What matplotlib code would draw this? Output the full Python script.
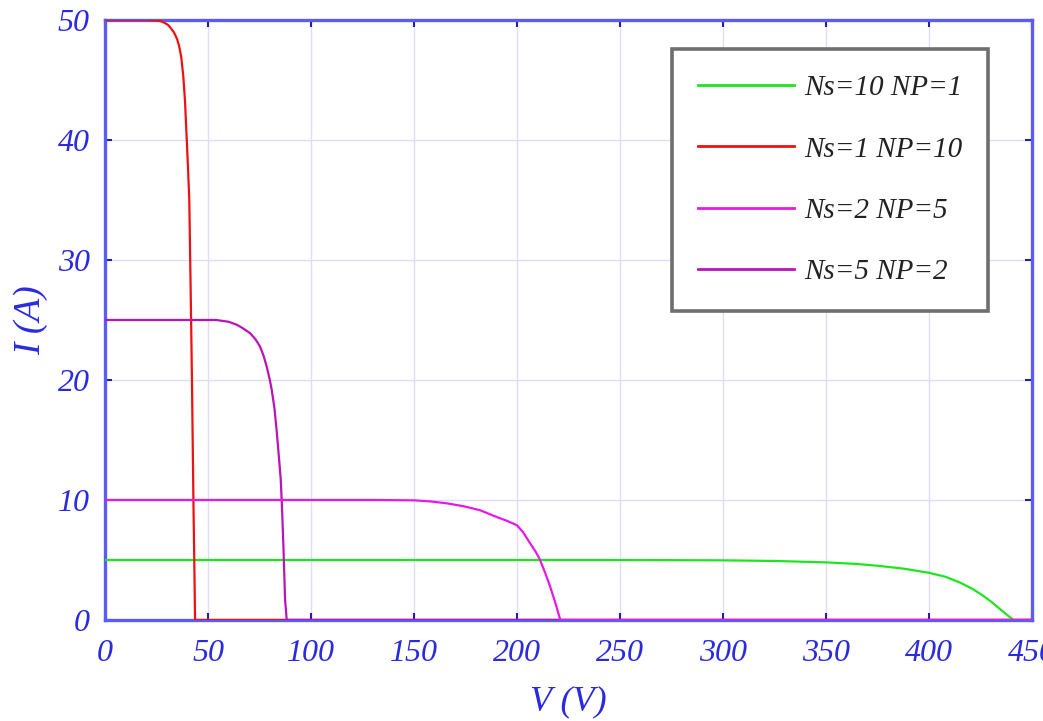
import numpy as np
import matplotlib
matplotlib.use("Agg")
import matplotlib.pyplot as plt

# I-V curves: (V in volts, I in amps)
v_ns10_np1 = [0, 100, 200, 240, 270, 300, 325, 350, 365, 375, 388, 400, 408, 415, 421, 426, 430, 434.5, 438, 441, 450]
i_ns10_np1 = [5, 5, 5, 5, 4.99, 4.97, 4.92, 4.8, 4.67, 4.52, 4.27, 3.93, 3.6, 3.12, 2.6, 2.05, 1.55, 0.9, 0.4, 0, 0]

v_ns1_np10 = [0, 20, 25, 27, 29, 30.5, 32, 33.5, 35, 36, 37, 38, 38.8, 39.6, 40.3, 40.9, 41.5, 42.2, 42.9, 43.4, 43.7, 450]
i_ns1_np10 = [50, 50, 49.95, 49.9, 49.75, 49.6, 49.3, 48.95, 48.4, 47.8, 46.9, 45.3, 43.3, 40.3, 37.6, 35, 28.3, 20, 10, 4, 0, 0]

v_ns2_np5 = [0, 100, 133, 150, 158, 166, 174, 182, 190, 195, 200, 203, 206, 209, 211, 213.5, 216, 218, 219.5, 221, 450]
i_ns2_np5 = [10, 10, 10, 9.97, 9.88, 9.72, 9.48, 9.15, 8.59, 8.27, 7.89, 7.3, 6.48, 5.7, 5.07, 4.0, 2.82, 1.75, 0.9, 0, 0]

v_ns5_np2 = [0, 40, 54, 60, 64, 67, 70.4, 73, 75.2, 77, 78.5, 80, 80.9, 82.2, 83.3, 84.3, 85.3, 86.0, 86.6, 87.4, 88.2, 450]
i_ns5_np2 = [25, 25, 25, 24.85, 24.6, 24.3, 23.9, 23.4, 22.8, 22.0, 21.1, 20.0, 19.2, 17.7, 15.8, 13.8, 11.7, 9.0, 6.1, 1.7, 0, 0]

labels = ["Ns=10 NP=1", "Ns=1 NP=10", "Ns=2 NP=5", "Ns=5 NP=2"]
colors = ["#1ee61e", "#ee1111", "#e619e6", "#b814b8"]

xticks = np.arange(0, 451, 50)
yticks = np.arange(0, 51, 10)

blue = "#2a2ae0"
spine_blue = "#5c5cf2"

plt.rcParams["font.family"] = ["Liberation Serif", "DejaVu Serif"]
plt.rcParams["font.style"] = "italic"

fig = plt.figure(figsize=(10.43, 7.21), dpi=100)
ax = fig.add_axes([0.1007, 0.1401, 0.8888, 0.8322])

h1, = ax.plot(v_ns10_np1, i_ns10_np1, color=colors[0], lw=1.6, zorder=3)
h2, = ax.plot(v_ns1_np10, i_ns1_np10, color=colors[1], lw=1.6, zorder=4)
h4, = ax.plot(v_ns5_np2, i_ns5_np2, color=colors[3], lw=1.6, zorder=5)
h3, = ax.plot(v_ns2_np5, i_ns2_np5, color=colors[2], lw=1.6, zorder=6)

ax.set_xlim(0, 450)
ax.set_ylim(0, 50)
ax.set_xticks(xticks)
ax.set_yticks(yticks)
ax.grid(True, color="#dcdcfb", lw=1.0, zorder=0)
ax.set_axisbelow(True)

for s in ax.spines.values():
    s.set_color(spine_blue)
    s.set_linewidth(2.4)

ax.tick_params(direction="in", top=True, right=True, length=5, width=1.5,
               color="#2020b0", labelcolor=blue, labelsize=23)
ax.tick_params(axis="x", pad=14)
ax.tick_params(axis="y", pad=11)

ax.set_xlabel("V (V)", color=blue, fontsize=26, labelpad=12)
ax.set_ylabel("I (A)", color=blue, fontsize=27, labelpad=7)

leg = ax.legend([h1, h2, h3, h4], labels, loc="upper right",
                bbox_to_anchor=(0.9475, 0.932), bbox_transform=fig.transFigure,
                prop={"size": 21, "style": "italic"},
                handlelength=3.3, labelspacing=1.2, borderpad=0.88,
                handletextpad=0.35, fancybox=False, framealpha=1,
                borderaxespad=0)
leg.get_frame().set_edgecolor("#6e6e6e")
leg.get_frame().set_linewidth(2.6)
for t in leg.get_texts():
    t.set_color("#222222")
for ln in leg.get_lines():
    ln.set_linewidth(2.0)

fig.savefig("out.png", dpi=100)
